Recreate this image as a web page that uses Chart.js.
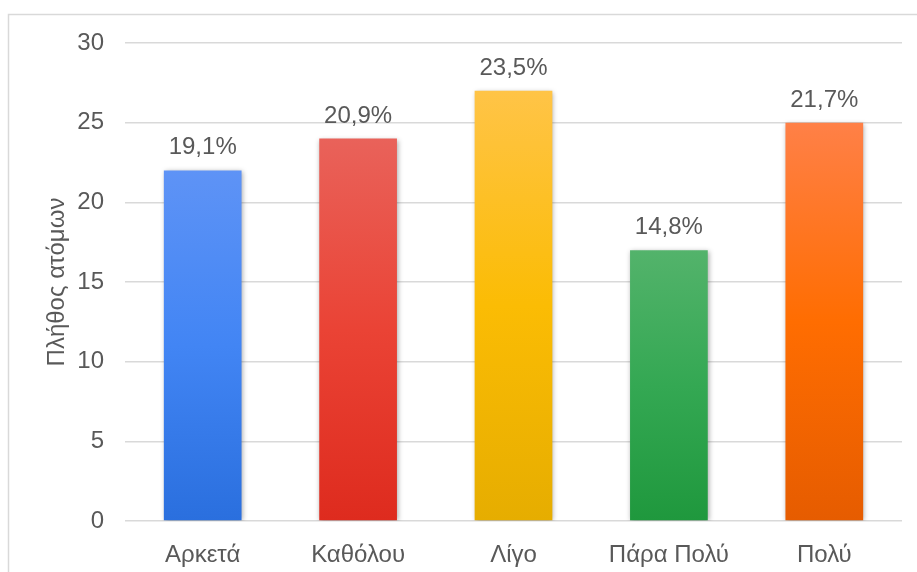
<!DOCTYPE html>
<html>
<head>
<meta charset="utf-8">
<script src="https://cdn.jsdelivr.net/npm/chart.js@4"></script>
<style>
    html, body { margin: 0; padding: 0; background: #fff; }
    #wrap { width: 917px; height: 572px; }
</style>
</head>
<body>
<div id="wrap"><canvas id="chart" width="917" height="572"></canvas></div>
<script>
// Data
const categories = ['Αρκετά', 'Καθόλου', 'Λίγο', 'Πάρα Πολύ', 'Πολύ'];
const counts = [22, 24, 27, 17, 25];
const percentLabels = ['19,1%', '20,9%', '23,5%', '14,8%', '21,7%'];
const yTicks = [0, 5, 10, 15, 20, 25, 30];

// top / middle / bottom colour of each bar gradient
const barTop = ['#5E93F6', '#E9625A', '#FFC447', '#53B36B', '#FF8047'];
const barMid = ['#4285F4', '#EA4335', '#FBBC04', '#34A853', '#FF6D01'];
const barBottom = ['#2A6FDE', '#DE2B1E', '#E6AD00', '#1F983D', '#E65C00'];

const textColor = '#595959';
const font = 'Liberation Sans, Arial, sans-serif';

// Gradient from the bar top down to the baseline
const barGradient = (ctx) => {
    const chart = ctx.chart;
    const i = ctx.dataIndex;
    if (!chart.chartArea || i === undefined) return barMid[i] || '#888';
    const y = chart.scales.y;
    const top = y.getPixelForValue(counts[i]);
    const bottom = y.getPixelForValue(0);
    const g = chart.ctx.createLinearGradient(0, top, 0, bottom);
    g.addColorStop(0, barTop[i]);
    g.addColorStop(0.5, barMid[i]);
    g.addColorStop(1, barBottom[i]);
    return g;
};

// Outer frame of the chart object
const framePlugin = {
    id: 'frame',
    beforeDraw(chart) {
        const c = chart.ctx;
        c.save();
        c.fillStyle = '#fff';
        c.fillRect(0, 0, chart.width, chart.height);
        c.strokeStyle = '#d9d9d9';
        c.lineWidth = 1.5;
        c.strokeRect(8.5, 14.5, chart.width + 50, chart.height + 50);
        c.restore();
    }
};

// Soft shadow behind the bars
const shadowPlugin = {
    id: 'barShadow',
    beforeDatasetsDraw(chart) {
        const c = chart.ctx;
        c.save();
        c.shadowColor = 'rgba(0, 0, 0, 0.35)';
        c.shadowBlur = 5;
        c.shadowOffsetX = 1;
        c.shadowOffsetY = 1;
    },
    afterDatasetsDraw(chart) {
        chart.ctx.restore();
    }
};

// Percentage labels above each bar
const valueLabelPlugin = {
    id: 'valueLabels',
    afterDatasetsDraw(chart) {
        const c = chart.ctx;
        const meta = chart.getDatasetMeta(0);
        c.save();
        c.fillStyle = textColor;
        c.font = '24px ' + font;
        c.textAlign = 'center';
        c.textBaseline = 'alphabetic';
        meta.data.forEach((bar, i) => {
            c.fillText(percentLabels[i], bar.x, bar.y - 16);
        });
        c.restore();
    }
};

const ctx = document.getElementById('chart').getContext('2d');
new Chart(ctx, {
    type: 'bar',
    data: {
        labels: categories,
        datasets: [{
            data: counts,
            backgroundColor: barGradient,
            borderWidth: 0,
            barPercentage: 0.5,
            categoryPercentage: 1,
        }],
    },
    options: {
        responsive: false,
        animation: false,
        devicePixelRatio: 1,
        layout: {
            padding: { top: 43, right: 15, bottom: 0, left: 0 },
        },
        plugins: {
            legend: { display: false },
            tooltip: { enabled: false },
        },
        scales: {
            x: {
                grid: { display: false },
                border: { display: false },
                ticks: {
                    color: textColor,
                    font: { family: font, size: 24 },
                    padding: 12,
                    maxRotation: 0,
                },
                afterFit: (scale) => { scale.height = 51; },
            },
            y: {
                min: 0,
                max: 30,
                afterBuildTicks: (scale) => {
                    scale.ticks = yTicks.map(v => ({ value: v }));
                },
                grid: {
                    color: '#d9d9d9',
                    lineWidth: 1.5,
                    drawTicks: false,
                },
                border: { display: false },
                ticks: {
                    color: textColor,
                    font: { family: font, size: 24 },
                    padding: 21,
                },
                title: {
                    display: true,
                    text: 'Πλήθος ατόμων',
                    color: textColor,
                    font: { family: font, size: 24 },
                    padding: { top: 43, bottom: 0 },
                },
                afterFit: (scale) => { scale.width = 125; },
            },
        },
    },
    plugins: [framePlugin, shadowPlugin, valueLabelPlugin],
});
</script>
</body>
</html>
